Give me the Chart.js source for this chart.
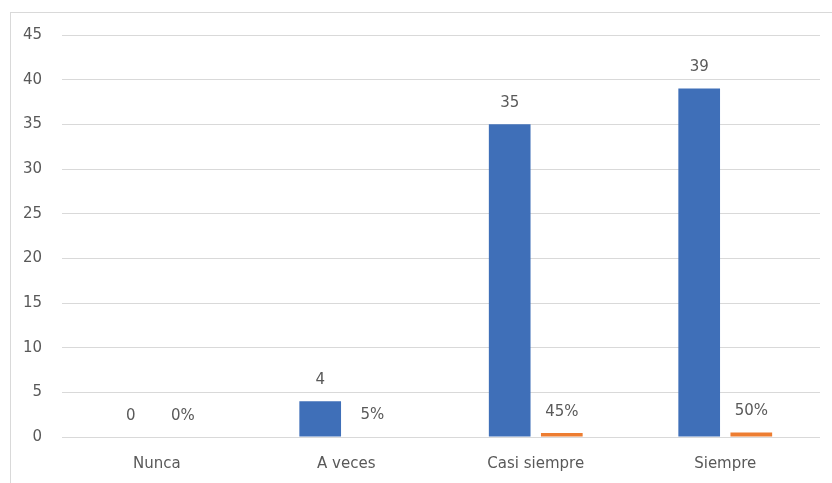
<!DOCTYPE html>
<html><head><meta charset="utf-8">
<script src="https://cdn.jsdelivr.net/npm/chart.js@4"></script>
<style>
html,body{margin:0;padding:0;background:#fff;overflow:hidden;}
#box{position:absolute;left:10px;top:12px;width:830px;height:480px;border:1px solid #d9d9d9;}
canvas{display:block;}
</style></head><body>
<div id="box"><canvas id="c" width="830" height="470"></canvas></div>
<script>
const categories = ["Nunca", "A veces", "Casi siempre", "Siempre"];
const counts = [0, 4, 35, 39];
const shares = [0, 0.05, 0.45, 0.50];
const shareLabels = ["0%", "5%", "45%", "50%"];
const yTicks = [0, 5, 10, 15, 20, 25, 30, 35, 40, 45];

const TXT = '#595959';
const FONT = '"DejaVu Sans", sans-serif';

const labelPlugin = {
  id: 'valueLabels',
  afterDatasetsDraw(chart) {
    const ctx = chart.ctx;
    ctx.save();
    ctx.font = '15px ' + FONT;
    ctx.fillStyle = TXT;
    ctx.textAlign = 'center';
    ctx.textBaseline = 'middle';
    chart.data.datasets.forEach((ds, di) => {
      const meta = chart.getDatasetMeta(di);
      meta.data.forEach((el, i) => {
        const txt = di === 0 ? String(counts[i]) : shareLabels[i];
        ctx.fillText(txt, el.x, el.y - 21);
      });
    });
    ctx.restore();
  }
};

new Chart(document.getElementById('c'), {
  type: 'bar',
  data: {
    labels: categories,
    datasets: [
      { label: 'Frecuencia', data: counts, backgroundColor: '#3F6FB8', categoryPercentage: 0.55, barPercentage: 0.8 },
      { label: 'Porcentaje', data: shares, backgroundColor: '#ED7D31', categoryPercentage: 0.55, barPercentage: 0.8 }
    ]
  },
  options: {
    responsive: false,
    animation: false,
    layout: { padding: { top: 22, right: 21, left: 0, bottom: 0 } },
    plugins: { legend: { display: false }, tooltip: { enabled: false } },
    scales: {
      x: {
        grid: { display: false, drawTicks: false },
        border: { display: false },
        ticks: { color: TXT, font: { family: FONT, size: 15 }, padding: 18 },
        afterFit(s) { s.height = 46; }
      },
      y: {
        min: 0, max: 45,
        afterBuildTicks(s) { s.ticks = yTicks.map(v => ({ value: v })); },
        grid: { color: '#d9d9d9', lineWidth: 1, drawTicks: false },
        border: { display: false },
        ticks: { color: TXT, font: { family: FONT, size: 15 }, padding: 20 },
        afterFit(s) { s.width = 51; s.paddingTop = 0; s.paddingBottom = 0; }
      }
    }
  },
  plugins: [labelPlugin]
});
</script>
</body></html>
